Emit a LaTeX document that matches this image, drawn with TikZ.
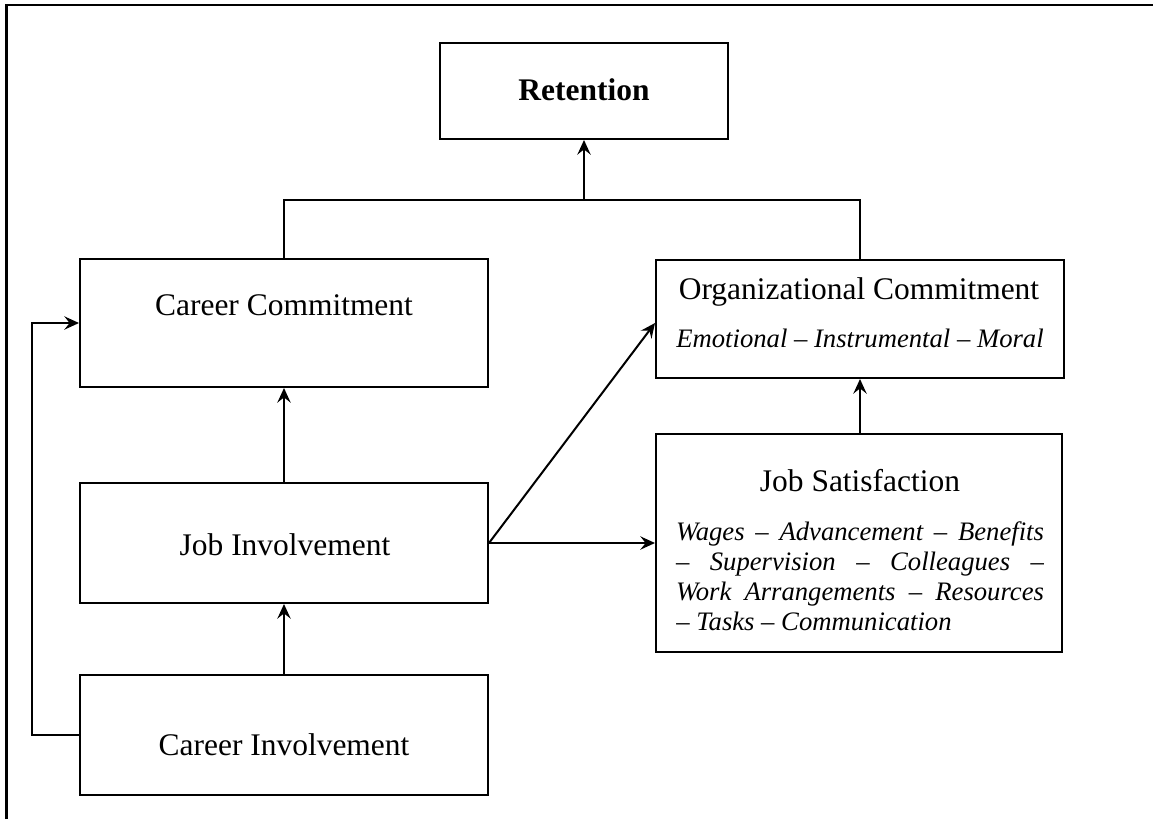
\documentclass[tikz,border=0pt]{standalone}
\usepackage{fontspec}
\setmainfont{Liberation Serif}
\usetikzlibrary{arrows.meta,calc}
\tikzset{
  box/.style={draw, line width=1.5pt, inner sep=0pt},
  conn/.style={line width=1.5pt},
  arr/.style={conn, -{Stealth[length=11pt,width=10pt,inset=4pt]}},
  title/.style={anchor=base, inner sep=0pt, font=\fontsize{23.6}{28}\selectfont},
  sub/.style={anchor=base, inner sep=0pt, font=\fontsize{20}{22.5}\selectfont\itshape},
}
\newcommand{\jline}[1]{\makebox[276pt][s]{#1}}
\begin{document}
\begin{tikzpicture}[x=0.75pt,y=-0.75pt]
\useasboundingbox (0,0) rectangle (1153,819);
% outer frame (top and left edges visible)
\draw[line width=1.6pt] (6.5,819) -- (6.5,5) -- (1153,5);

% boxes
\node[box, minimum width=216pt, minimum height=72pt] (ret) at (584,91) {};
\node[box, minimum width=306pt, minimum height=96pt] (cc) at (284,323) {};
\node[box, minimum width=306pt, minimum height=88.5pt] (oc) at (860,319) {};
\node[box, minimum width=306pt, minimum height=90pt] (ji) at (284,543) {};
\node[box, minimum width=304.5pt, minimum height=163.5pt] (js) at (859,543) {};
\node[box, minimum width=306pt, minimum height=90pt] (ci) at (284,735) {};

% texts
\node[title] (retT) at (584,100) {\textbf{Retention}};
\node[title] (ccT) at (284,315) {Career Commitment};
\node[title] (ocT) at (859,299) {Organizational Commitment};
\node[sub] (ocS) at (860,347) {Emotional – Instrumental – Moral};
\node[title] (jiT) at (285,555) {Job Involvement};
\node[title] (ciT) at (284,755) {Career Involvement};
\node[title] (jsT) at (860,491) {Job Satisfaction};
\node[sub] (js1) at (860,540) {\jline{Wages – Advancement – Benefits}};
\node[sub] (js2) at (860,570) {\jline{– Supervision – Colleagues –}};
\node[sub] (js3) at (860,600) {\jline{Work Arrangements – Resources}};
\node[sub, anchor=base west] (js4) at (676,630) {– Tasks – Communication};

% connectors
\coordinate (hl) at (584,200);
\coordinate (loopx) at (32,0);
\draw[conn] (cc.north) -- (cc.north |- hl) -- (oc.north |- hl) -- (oc.north);
\draw[arr] (hl) -- (ret.south);
\draw[arr] (ji.north) -- (cc.south);
\draw[arr] (ci.north) -- (ji.south);
\draw[arr] (ci.west) -- (ci.west -| loopx) |- (cc.west);
\draw[arr] (ji.east) -- ([yshift=-3pt]oc.west);
\draw[arr] (ji.east) -- (ji.east -| js.west);
\draw[arr] (js.north -| oc.south) -- (oc.south);
\end{tikzpicture}
\end{document}
